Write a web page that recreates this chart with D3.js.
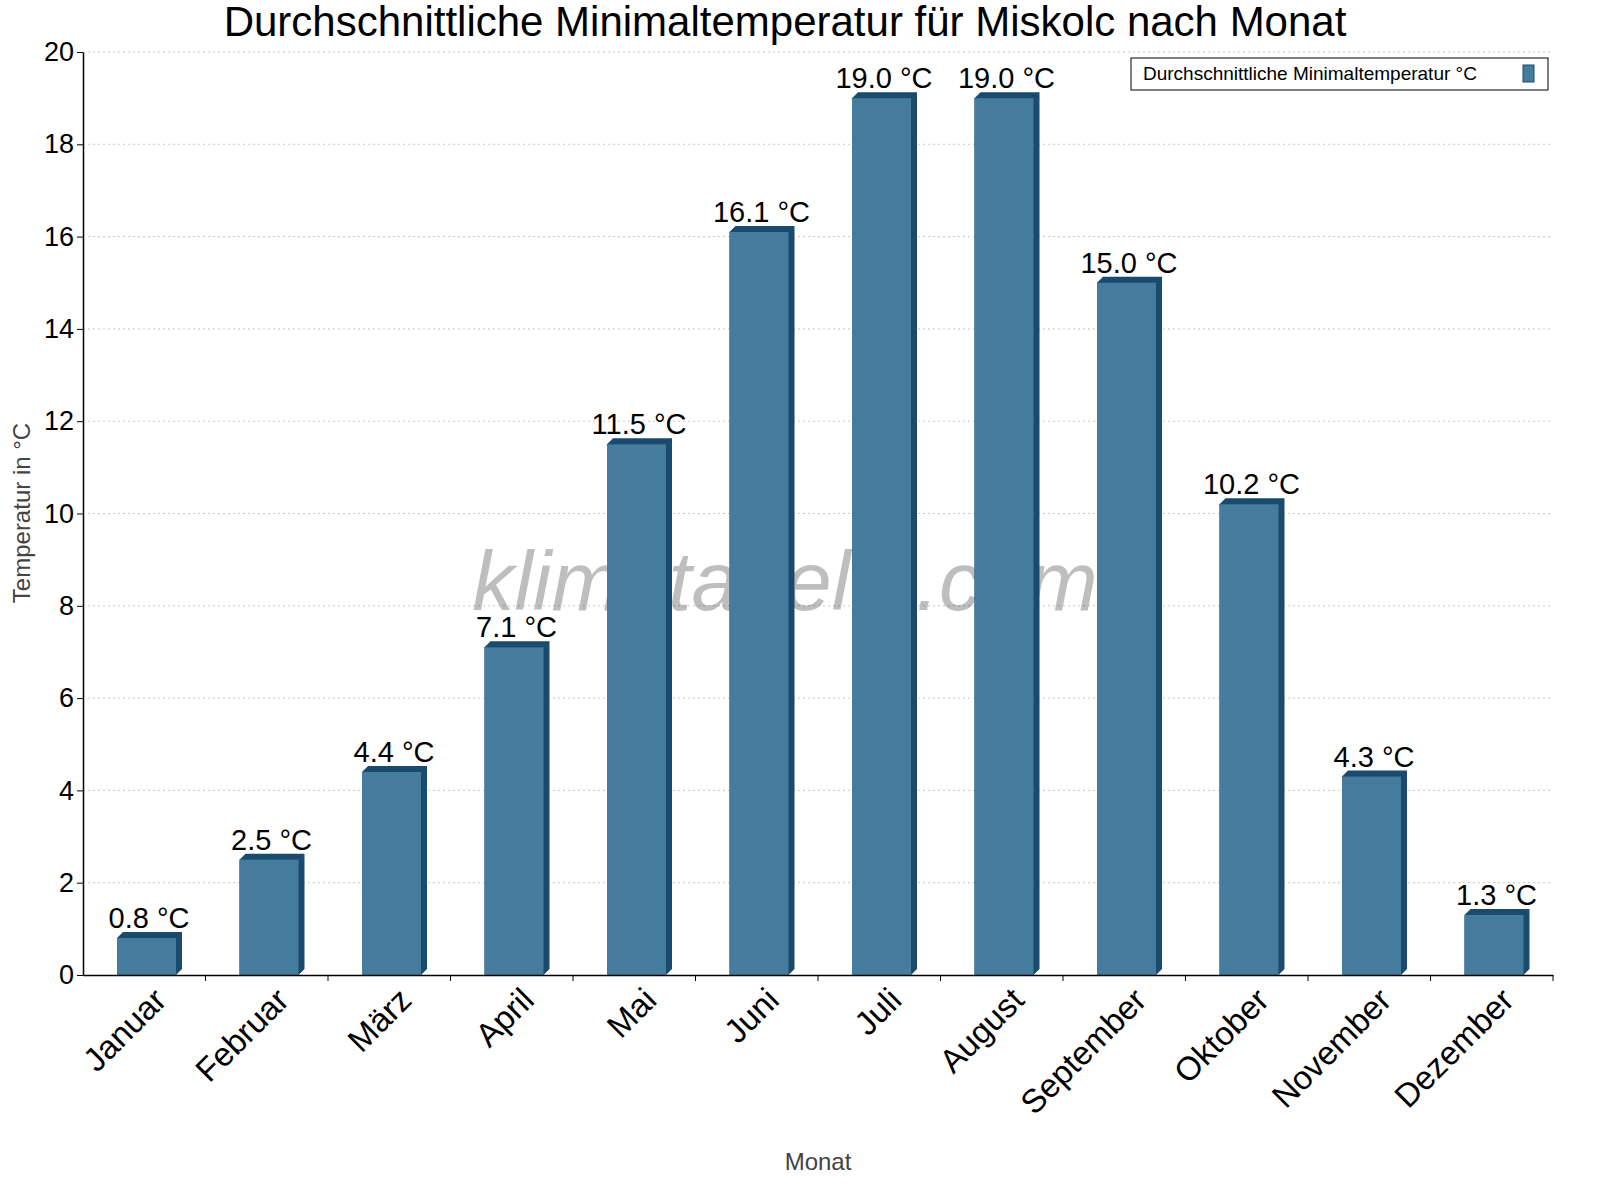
<!DOCTYPE html>
<html><head><meta charset="utf-8">
<script src="https://cdn.jsdelivr.net/npm/d3@7"></script>
<style>body{margin:0;background:#fff}text{font-family:"Liberation Sans",Arial,sans-serif}</style>
</head><body><svg id="c" width="1600" height="1200"></svg>
<script>
const months = ["Januar","Februar","März","April","Mai","Juni","Juli","August","September","Oktober","November","Dezember"]
const minTemp = [0.8, 2.5, 4.4, 7.1, 11.5, 16.1, 19.0, 19.0, 15.0, 10.2, 4.3, 1.3]
const yTicks = [0, 2, 4, 6, 8, 10, 12, 14, 16, 18, 20]

const svg = d3.select("#c")
const mLeft = 83, mRight = 1553, mTop = 52, mBottom = 975
const x = d3.scaleBand().domain(months).range([mLeft, mRight])
const y = d3.scaleLinear().domain([0, 20]).range([mBottom, mTop])
const depth = 6

// grid
svg.append("g").selectAll("line").data(yTicks.slice(1)).join("line")
  .attr("x1", mLeft).attr("x2", mRight).attr("y1", d => y(d)).attr("y2", d => y(d))
  .attr("stroke", "#c8c8c8").attr("stroke-dasharray", "2,3")

svg.append("text").attr("x", 785).attr("y", 610).attr("text-anchor", "middle")
  .attr("font-size", 84).attr("font-style", "italic").attr("fill", "#000").attr("opacity", 0.25)
  .text("klimatabelle.com")

// bars
const bars = svg.append("g").selectAll("g").data(minTemp).join("g")
bars.append("polygon").attr("fill", "#1a4a6c")
  .attr("points", (d, i) => {
    const x0 = x(months[i]) + 34, w = 59, t = y(d)
    return `${x0},${t} ${x0 + depth},${t - depth} ${x0 + w + depth},${t - depth} ${x0 + w + depth},${mBottom - depth} ${x0 + w},${mBottom} ${x0},${mBottom}`
  })
bars.append("rect").attr("fill", "#457b9d")
  .attr("x", (d, i) => x(months[i]) + 34).attr("width", 59)
  .attr("y", d => y(d)).attr("height", d => mBottom - y(d))
bars.append("text").attr("text-anchor", "middle").attr("font-size", 29)
  .attr("x", (d, i) => x(months[i]) + 34 + 32).attr("y", d => y(d) - 10)
  .text(d => d.toFixed(1) + " °C")

// axes
const ya = svg.append("g").attr("transform", `translate(${mLeft},0)`)
  .call(d3.axisLeft(y).tickValues(yTicks).tickSize(6).tickSizeOuter(0))
ya.selectAll("text").attr("font-size", 27).attr("fill", "#000")
ya.select(".domain").attr("stroke", "#000").attr("stroke-width", 1.5)

const xa = svg.append("g").attr("transform", `translate(0,${mBottom})`)
  .call(d3.axisBottom(x).tickSize(0).tickSizeOuter(0))
xa.select(".domain").attr("stroke", "#000").attr("stroke-width", 1.5)
xa.selectAll(".tick text").attr("font-size", 33).attr("fill", "#000")
  .attr("text-anchor", "end").attr("dy", 0)
  .attr("transform", "translate(22,25) rotate(-45)")
svg.append("g").selectAll("line").data(months).join("line")
  .attr("x1", d => x(d) + x.bandwidth()).attr("x2", d => x(d) + x.bandwidth())
  .attr("y1", mBottom).attr("y2", mBottom + 6).attr("stroke", "#000")

svg.append("text").attr("x", 818).attr("y", 1170).attr("text-anchor", "middle")
  .attr("font-size", 24).attr("fill", "#444").text("Monat")
svg.append("text").attr("transform", "translate(30,513) rotate(-90)").attr("text-anchor", "middle")
  .attr("font-size", 24).attr("fill", "#444").text("Temperatur in °C")
svg.append("text").attr("x", 785).attr("y", 36).attr("text-anchor", "middle")
  .attr("font-size", 42).attr("fill", "#000").text("Durchschnittliche Minimaltemperatur für Miskolc nach Monat")

// legend
const lg = svg.append("g")
lg.append("rect").attr("x", 1131).attr("y", 58).attr("width", 417).attr("height", 32)
  .attr("fill", "#fff").attr("stroke", "#000")
lg.append("text").attr("x", 1143).attr("y", 80).attr("font-size", 19).text("Durchschnittliche Minimaltemperatur °C")
lg.append("rect").attr("x", 1523).attr("y", 65).attr("width", 11).attr("height", 17)
  .attr("fill", "#457b9d").attr("stroke", "#1a4a6c")
</script></body></html>
